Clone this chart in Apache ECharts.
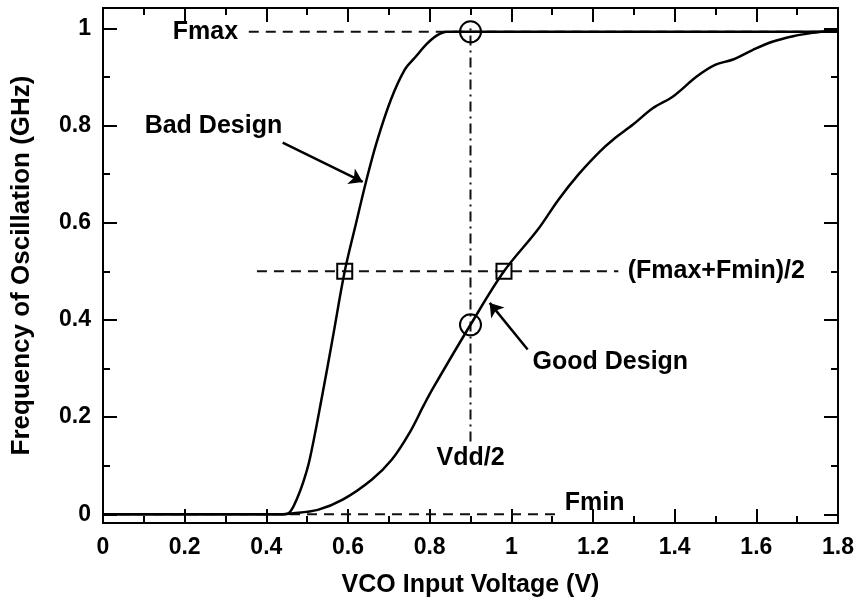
<!DOCTYPE html>
<html>
<head>
<meta charset="utf-8">
<script src="https://cdn.jsdelivr.net/npm/echarts@6/dist/echarts.min.js"></script>
<style>
  html, body { margin: 0; padding: 0; background: #fff; }
  #chart { width: 857px; height: 605px; }
</style>
</head>
<body>
<div id="chart"></div>
<script>
// VCO transfer curves: oscillation frequency vs. control voltage
const badV = [0, 0.44, 0.457, 0.474, 0.49, 0.506, 0.535, 0.562, 0.592, 0.62, 0.644, 0.67, 0.705, 0.739, 0.764, 0.793, 0.817, 0.842, 1.2, 1.5, 1.8];
const badF = [0, 0, 0.004, 0.03, 0.065, 0.112, 0.236, 0.36, 0.5, 0.6, 0.684, 0.765, 0.853, 0.915, 0.94, 0.968, 0.985, 0.993, 0.993, 0.993, 0.993];

const goodV = [0, 0.44, 0.457, 0.526, 0.587, 0.658, 0.707, 0.751, 0.786, 0.81, 0.9, 0.982, 1.065, 1.115, 1.165, 1.216, 1.249, 1.298, 1.347, 1.396, 1.454, 1.499, 1.543, 1.592, 1.641, 1.69, 1.739, 1.788, 1.8];
const goodF = [0, 0, 0.001, 0.009, 0.03, 0.071, 0.112, 0.168, 0.225, 0.262, 0.39, 0.5, 0.586, 0.647, 0.70, 0.746, 0.771, 0.802, 0.836, 0.860, 0.901, 0.925, 0.936, 0.956, 0.973, 0.984, 0.991, 0.996, 0.997];

// reference levels
const fMax = 0.993;
const fMin = 0;
const fMid = 0.5;
const vHalf = 0.9;

// guide line extents
const fMaxGuideV = [0.357, 1.8];
const fMinGuideV = [0, 1.123];
const fMidGuideV = [0.377, 1.262];
const vHalfGuideF = [0.15, 1.006];

// highlighted crossings
const circlePts = [[vHalf, fMax], [vHalf, 0.39]];
const squarePts = [[0.592, fMid], [0.982, fMid]];

// annotation arrows: [from, to]
const arrows = [
  [[0.44, 0.765], [0.636, 0.684]],
  [[1.04, 0.339], [0.947, 0.435]]
];

// text annotations: [v, f, text]
const notes = [
  [0.171, fMax, 'Fmax'],
  [0.102, 0.798, 'Bad Design'],
  [1.285, fMid, '(Fmax+Fmin)/2'],
  [1.052, 0.314, 'Good Design'],
  [0.817, 0.116, 'Vdd/2'],
  [1.131, 0.022, 'Fmin']
];

// axis ticks
const xMin = 0, xMax = 1.8, xStep = 0.2;
const yMin = -0.018, yMax = 1.042;
const yMajor = [0, 0.2, 0.4, 0.6, 0.8, 1];
const yMinor = [0.1, 0.3, 0.5, 0.7, 0.9];

const FONT = '"Liberation Sans", Arial, Helvetica, sans-serif';
const axisLine = { show: true, onZero: false, lineStyle: { color: '#000', width: 2 } };

function xAxisDef(pos, withLabels) {
  return {
    type: 'value', position: pos, min: xMin, max: xMax, interval: xStep,
    axisLine: axisLine,
    axisTick: { show: true, inside: true, length: 14, lineStyle: { color: '#000', width: 2 } },
    minorTick: { show: true, splitNumber: 2, length: 7, lineStyle: { color: '#000', width: 2 } },
    splitLine: { show: false }, minorSplitLine: { show: false },
    axisLabel: withLabels
      ? { show: true, margin: 13, color: '#000', fontFamily: FONT, fontWeight: 'bold', fontSize: 23, showMaxLabel: true, showMinLabel: true }
      : { show: false },
    name: withLabels ? 'VCO Input Voltage (V)' : '',
    nameLocation: 'middle', nameGap: 50,
    nameTextStyle: { color: '#000', fontFamily: FONT, fontWeight: 'bold', fontSize: 25 }
  };
}

function yAxisDef(pos, values, len, withLabels) {
  return {
    type: 'value', position: pos, min: yMin, max: yMax,
    axisLine: axisLine,
    axisTick: { show: true, inside: true, length: len, customValues: values, lineStyle: { color: '#000', width: 2 } },
    splitLine: { show: false },
    axisLabel: withLabels
      ? { show: true, margin: 12, customValues: values, color: '#000', fontFamily: FONT, fontWeight: 'bold', fontSize: 23 }
      : { show: false },
    name: withLabels ? 'Frequency of Oscillation (GHz)' : '',
    nameLocation: 'middle', nameGap: 68, nameRotate: 90,
    nameTextStyle: { color: '#000', fontFamily: FONT, fontWeight: 'bold', fontSize: 26 }
  };
}

function pairs(xs, ys) { return xs.map((x, i) => [x, ys[i]]); }

const guideStyle = { color: '#111', width: 2, type: [10, 7] };
const hollow = { color: 'rgba(0,0,0,0)', borderColor: '#000', borderWidth: 2, opacity: 1 };

const series = [
  { type: 'line', name: 'Fmax guide', data: [[fMaxGuideV[0], fMax], [fMaxGuideV[1], fMax]], symbol: 'none', lineStyle: guideStyle, z: 2 },
  { type: 'line', name: 'Fmin guide', data: [[fMinGuideV[0], fMin], [fMinGuideV[1], fMin]], symbol: 'none', lineStyle: guideStyle, z: 2 },
  { type: 'line', name: 'Mid guide', data: [[fMidGuideV[0], fMid], [fMidGuideV[1], fMid]], symbol: 'none', lineStyle: guideStyle, z: 2 },
  { type: 'line', name: 'Vdd/2 guide', data: [[vHalf, vHalfGuideF[0]], [vHalf, vHalfGuideF[1]]], symbol: 'none',
    lineStyle: { color: '#111', width: 2, type: [10, 5, 2, 5] }, z: 2 },
  { type: 'line', name: 'Bad Design', data: pairs(badV, badF), symbol: 'none', smooth: 0.35,
    lineStyle: { color: '#000', width: 2.5 }, z: 3 },
  { type: 'line', name: 'Good Design', data: pairs(goodV, goodF), symbol: 'none', smooth: 0.35,
    lineStyle: { color: '#000', width: 2.5 }, z: 3 },
  { type: 'scatter', name: 'circles', data: circlePts, symbol: 'circle', symbolSize: 21, itemStyle: hollow, z: 4 },
  { type: 'scatter', name: 'squares', data: squarePts, symbol: 'rect', symbolSize: 15, itemStyle: hollow, z: 4 },
  { type: 'lines', name: 'arrows', coordinateSystem: 'cartesian2d', polyline: false,
    data: arrows.map(a => ({ coords: a })),
    symbol: ['none', 'arrow'], symbolSize: 13,
    lineStyle: { color: '#000', width: 2.5, opacity: 1 }, z: 4 },
  { type: 'scatter', name: 'notes', symbolSize: 1, itemStyle: { color: 'rgba(0,0,0,0)', opacity: 1 },
    data: notes.map(n => ({ value: [n[0], n[1]], name: n[2] })),
    label: { show: true, position: 'inside', align: 'left', verticalAlign: 'middle', formatter: '{b}', opacity: 1,
      color: '#000', fontFamily: FONT, fontWeight: 'bold', fontSize: 25 }, z: 5 }
];

const chart = echarts.init(document.getElementById('chart'), null, { renderer: 'canvas' });
chart.setOption({
  animation: false,
  backgroundColor: '#fff',
  grid: { left: 103, right: 19, top: 8, bottom: 82, containLabel: false },
  xAxis: [xAxisDef('bottom', true), xAxisDef('top', false)],
  yAxis: [
    yAxisDef('left', yMajor, 14, true),
    yAxisDef('left', yMinor, 7, false),
    yAxisDef('right', yMajor, 14, false),
    yAxisDef('right', yMinor, 7, false)
  ],
  series: series.map(s => Object.assign({ xAxisIndex: 0, yAxisIndex: 0, silent: true }, s))
});
</script>
</body>
</html>
